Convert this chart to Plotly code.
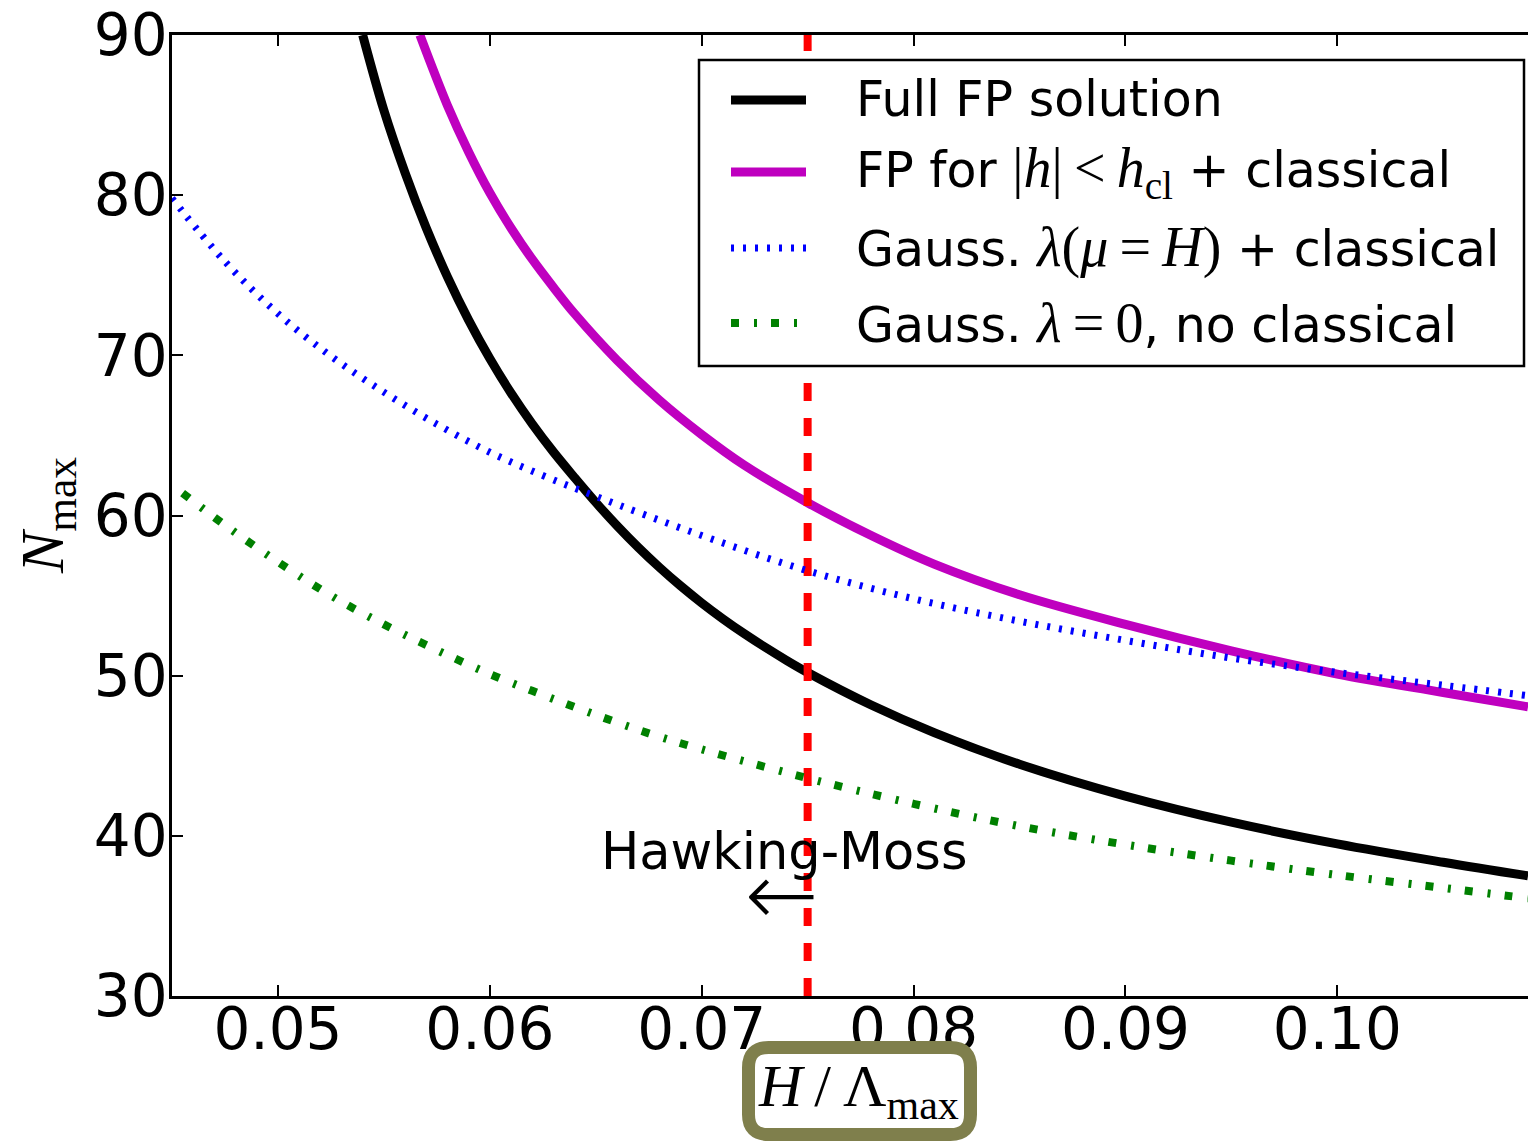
import plotly.graph_objects as go

# ---- data: N_max as a function of H / Lambda_max ----
x_full = [0.054, 0.055, 0.056, 0.057, 0.058, 0.059, 0.060, 0.061, 0.062, 0.063, 0.064,
          0.065, 0.066, 0.067, 0.068, 0.069, 0.070, 0.071, 0.072, 0.073, 0.074, 0.075,
          0.078, 0.081, 0.085, 0.090, 0.095, 0.100, 0.105, 0.109]
n_full = [90.0, 85.3, 81.4, 77.95, 74.9, 72.2, 69.8, 67.65, 65.72, 63.97, 62.37,
          60.82, 59.37, 58.02, 56.77, 55.61, 54.54, 53.55, 52.63, 51.77, 50.96, 50.2,
          48.17, 46.43, 44.47, 42.48, 40.85, 39.5, 38.35, 37.5]

x_fpcl = [0.0567, 0.058, 0.059, 0.060, 0.061, 0.062, 0.063, 0.064, 0.066, 0.068, 0.070, 0.072,
          0.075, 0.078, 0.081, 0.085, 0.090, 0.095, 0.100, 0.105, 0.109]
n_fpcl = [90.0, 85.6, 82.7, 80.15, 77.95, 76.0, 74.25, 72.6, 69.7, 67.2, 65.05, 63.15,
          60.8, 58.75, 56.95, 55.05, 53.2, 51.55, 50.1, 48.95, 48.05]

x_gauss_mu = [0.045, 0.0475, 0.050, 0.0525, 0.055, 0.0575, 0.060, 0.0625, 0.065,
              0.070, 0.075, 0.080, 0.085, 0.090, 0.095, 0.100, 0.105, 0.109]
n_gauss_mu = [79.8, 75.85, 72.6, 69.95, 67.7, 65.7, 63.95, 62.5, 61.2,
              58.75, 56.55, 54.8, 53.4, 52.2, 51.1, 50.2, 49.4, 48.75]

x_gauss_0 = [0.0455, 0.0475, 0.050, 0.0525, 0.055, 0.0575, 0.060, 0.0625, 0.065, 0.0675,
             0.070, 0.075, 0.080, 0.085, 0.090, 0.095, 0.100, 0.105, 0.109]
n_gauss_0 = [61.4, 59.4, 57.1, 55.0, 53.2, 51.6, 50.1, 48.8, 47.55, 46.4,
             45.4, 43.6, 42.0, 40.6, 39.45, 38.45, 37.55, 36.75, 36.1]

hm_x = [0.075, 0.075]          # Hawking-Moss boundary
hm_y = [30, 90]

x_ticks = [0.05, 0.06, 0.07, 0.08, 0.09, 0.10]
x_ticktext = ["0.05", "0.06", "0.07", "0.08", "0.09", "0.10"]
y_ticks = [30, 40, 50, 60, 70, 80, 90]

MATH = "font-family:'Liberation Serif';font-size:56px"
legend_labels = [
    "Full FP solution",
    f"FP for <span style=\"{MATH}\">|<i>h</i>|\u2009&lt;\u2009<i>h</i><sub>cl</sub></span> + classical",
    f"Gauss. <span style=\"{MATH}\"><i>λ</i>(<i>μ</i>\u2009=\u2009<i>H</i>)</span> + classical",
    f"Gauss. <span style=\"{MATH}\"><i>λ</i>\u2009=\u20090</span>, no classical",
]

# ---- styles ----
BLACK, MAGENTA, BLUE, GREEN, RED = "#000000", "#bf00bf", "#0000ff", "#008000", "#ff0000"
styles = [
    dict(color=BLACK, width=9, dash="solid"),
    dict(color=MAGENTA, width=9, dash="solid"),
    dict(color=BLUE, width=7, dash="3px,9px"),
    dict(color=GREEN, width=8, dash="8px,15px,3px,14px"),
]

W, H = 1528, 1142
L, R, T, B = 172, 1528, 35, 996   # plot area in pixels


def px_x(p):
    return (p - L) / (R - L)


def px_y(p):
    return (B - p) / (B - T)


fig = go.Figure()
series = [(x_full, n_full), (x_fpcl, n_fpcl), (x_gauss_mu, n_gauss_mu), (x_gauss_0, n_gauss_0)]
for (xs, ys), st in zip(series[:2], styles[:2]):
    fig.add_trace(go.Scatter(x=xs, y=ys, mode="lines", line=dict(shape="spline", **st),
                             showlegend=False, hoverinfo="skip"))
fig.add_trace(go.Scatter(x=hm_x, y=hm_y, mode="lines",
                         line=dict(color=RED, width=8, dash="18px,17px"),
                         showlegend=False, hoverinfo="skip"))
for (xs, ys), st in zip(series[2:], styles[2:]):
    fig.add_trace(go.Scatter(x=xs, y=ys, mode="lines", line=dict(shape="spline", **st),
                             showlegend=False, hoverinfo="skip"))

shapes = []
annotations = []

# legend box
shapes.append(dict(type="rect", xref="paper", yref="paper",
                   x0=px_x(699), x1=px_x(1524), y0=px_y(366), y1=px_y(60),
                   line=dict(color="black", width=2.5), fillcolor="white", layer="above"))
row_y = [100, 172, 248, 323]
for yy, st, lab in zip(row_y, styles, legend_labels):
    shapes.append(dict(type="line", xref="paper", yref="paper",
                       x0=px_x(731), x1=px_x(806), y0=px_y(yy), y1=px_y(yy),
                       line=st, layer="above"))
    annotations.append(dict(xref="paper", yref="paper", x=px_x(854), y=px_y(yy),
                            xanchor="left", yanchor="middle", showarrow=False, text=lab,
                            font=dict(family="DejaVu Sans", size=49, color="black")))

# rounded frame around the x-axis label
bx0, bx1, by0, by1, rr = 748.5, 970.5, 1047.5, 1134.5, 20
path = (f"M {px_x(bx0 + rr)} {px_y(by0)} L {px_x(bx1 - rr)} {px_y(by0)} "
        f"Q {px_x(bx1)} {px_y(by0)} {px_x(bx1)} {px_y(by0 + rr)} "
        f"L {px_x(bx1)} {px_y(by1 - rr)} Q {px_x(bx1)} {px_y(by1)} {px_x(bx1 - rr)} {px_y(by1)} "
        f"L {px_x(bx0 + rr)} {px_y(by1)} Q {px_x(bx0)} {px_y(by1)} {px_x(bx0)} {px_y(by1 - rr)} "
        f"L {px_x(bx0)} {px_y(by0 + rr)} Q {px_x(bx0)} {px_y(by0)} {px_x(bx0 + rr)} {px_y(by0)} Z")
shapes.append(dict(type="path", xref="paper", yref="paper", path=path,
                   line=dict(color="#7f7f4c", width=13), fillcolor="white", layer="above"))

annotations.append(dict(xref="paper", yref="paper", x=px_x(859), y=px_y(1090),
                        xanchor="center", yanchor="middle", showarrow=False,
                        text="<i>H</i>\u2009/\u2009Λ<sub>max</sub>",
                        font=dict(family="Liberation Serif", size=60, color="black")))
annotations.append(dict(xref="paper", yref="paper", x=px_x(46), y=px_y(515),
                        xanchor="center", yanchor="middle", showarrow=False, textangle=-90,
                        text="<i>N</i><sub>max</sub>",
                        font=dict(family="Liberation Serif", size=62, color="black")))

# Hawking-Moss label with arrow
annotations.append(dict(xref="x", yref="y", x=0.0739, y=39.0, xanchor="center", yanchor="middle",
                        showarrow=False, text="Hawking-Moss",
                        font=dict(family="DejaVu Sans", size=51, color="black")))
annotations.append(dict(xref="paper", yref="paper", x=px_x(782), y=px_y(894),
                        xanchor="center", yanchor="middle", showarrow=False, text="←",
                        font=dict(family="DejaVu Sans", size=88, weight=200, color="black")))

fig.update_layout(
    width=W, height=H,
    margin=dict(l=L, r=W - R, t=T, b=H - B, autoexpand=False),
    paper_bgcolor="white", plot_bgcolor="white",
    shapes=shapes, annotations=annotations,
    showlegend=False,
    font=dict(family="DejaVu Sans", color="black"),
)
fig.update_xaxes(range=[0.045, 0.109], tickvals=x_ticks, ticktext=x_ticktext,
                 ticks="inside", ticklen=11, tickwidth=2, tickcolor="black",
                 showline=True, linecolor="black", linewidth=2.5, mirror="ticks",
                 showgrid=False, zeroline=False, automargin=False, ticklabelstandoff=-19,
                 tickfont=dict(family="DejaVu Sans", size=58, color="black"))
fig.update_yaxes(range=[30, 90], tickvals=y_ticks,
                 ticks="inside", ticklen=11, tickwidth=2, tickcolor="black",
                 showline=True, linecolor="black", linewidth=2.5, mirror=False,
                 showgrid=False, zeroline=False, automargin=False, ticklabelstandoff=-10,
                 tickfont=dict(family="DejaVu Sans", size=58, color="black"))

fig.write_html("out.html")
